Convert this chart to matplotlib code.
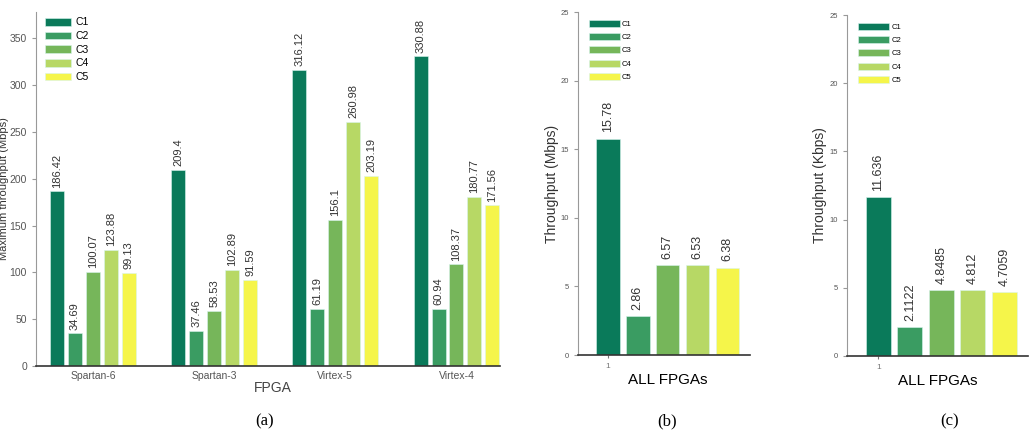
import matplotlib
matplotlib.use('Agg')
import matplotlib.pyplot as plt
import numpy as np

plt.rcParams['font.family'] = ['Liberation Sans', 'DejaVu Sans']

# data
series = ['C1', 'C2', 'C3', 'C4', 'C5']
fpgas = ['Spartan-6', 'Spartan-3', 'Virtex-5', 'Virtex-4']
max_tp = {
    'C1': [186.42, 209.4, 316.12, 330.88],
    'C2': [34.69, 37.46, 61.19, 60.94],
    'C3': [100.07, 58.53, 156.1, 108.37],
    'C4': [123.88, 102.89, 260.98, 180.77],
    'C5': [99.13, 91.59, 203.19, 171.56],
}
all_mbps = [15.78, 2.86, 6.57, 6.53, 6.38]
all_mbps_lbl = ['15.78', '2.86', '6.57', '6.53', '6.38']
all_kbps = [11.636, 2.1122, 4.8485, 4.812, 4.7059]
all_kbps_lbl = ['11.636', '2.1122', '4.8485', '4.812', '4.7059']

colors = ['#0a7a5a', '#3a9c62', '#76b65a', '#b7d865', '#f5f54a']
tick_col = '#555555'

fig = plt.figure(figsize=(10.29, 4.34), dpi=100)


def style_axes(ax):
    ax.spines['top'].set_visible(False)
    ax.spines['right'].set_visible(False)
    ax.spines['left'].set_color('#999999')
    ax.spines['bottom'].set_color('#333333')
    ax.spines['bottom'].set_linewidth(1.2)
    ax.tick_params(axis='y', direction='out', length=3, colors='#999999',
                   labelcolor=tick_col)
    ax.tick_params(axis='x', length=0, colors='#333333', labelcolor=tick_col)


# (a) maximum throughput per FPGA
ax1 = fig.add_axes([0.035, 0.157, 0.451, 0.815])
x = np.arange(len(fpgas))
slot = 0.148
for i, s in enumerate(series):
    pos = x + (i - 2) * slot
    ax1.bar(pos, max_tp[s], width=slot * 0.78, color=colors[i],
            edgecolor='#d8f4ee', linewidth=0.4, label=s)
    for p, v in zip(pos, max_tp[s]):
        ax1.text(p, v + 4, f'{v:g}', rotation=90, ha='center', va='bottom',
                 fontsize=8, color='#333333')
ax1.set_xlim(-0.47, 3.36)
ax1.set_ylim(0, 378)
ax1.set_yticks(range(0, 351, 50))
ax1.set_xticks(x)
ax1.set_xticklabels(fpgas, fontsize=7.5)
ax1.tick_params(axis='y', labelsize=7.5)
style_axes(ax1)
ax1.set_xlabel('FPGA', fontsize=10, color='#444444')
ax1.xaxis.set_label_coords(0.51, -0.042)
ax1.set_ylabel('Maximum throughput (Mbps)', fontsize=8, color='#333333')
ax1.yaxis.set_label_coords(-0.058, 0.5)
ax1.legend(loc='upper left', bbox_to_anchor=(0.019, 0.985), frameon=False,
           fontsize=7.5, handlelength=2.5, handleheight=0.75,
           labelspacing=0.35, handletextpad=0.4, borderpad=0, borderaxespad=0)

# (b) and (c): all FPGAs
for rect, vals, lbls, ylab, lx in [
        ([0.5617, 0.182, 0.167, 0.790], all_mbps, all_mbps_lbl,
         'Throughput (Mbps)', 0.523),
        ([0.823, 0.180, 0.176, 0.785], all_kbps, all_kbps_lbl,
         'Throughput (Kbps)', 0.503)]:
    ax = fig.add_axes(rect)
    pos = np.arange(len(series))
    for i, s in enumerate(series):
        ax.bar(pos[i], vals[i], width=0.79, color=colors[i],
               edgecolor='#d8f4ee', linewidth=0.4, label=s)
        ax.text(pos[i], vals[i] + 0.45, lbls[i], rotation=90, ha='center',
                va='bottom', fontsize=9, color='#333333')
    ax.set_xlim(-1.0, 4.75)
    ax.set_ylim(0, 25)
    ax.set_yticks(range(0, 26, 5))
    ax.set_xticks([0])
    ax.set_xticklabels(['1'], fontsize=6)
    style_axes(ax)
    ax.tick_params(axis='x', length=2, colors='#777777')
    ax.tick_params(axis='y', labelsize=5.5)
    ax.set_xlabel('ALL FPGAs', fontsize=11)
    ax.xaxis.set_label_coords(lx, -0.052)
    ax.set_ylabel(ylab, fontsize=10, color='#333333')
    ax.yaxis.set_label_coords(-0.11, 0.5)
    ax.legend(loc='upper left', bbox_to_anchor=(0.064, 0.978), frameon=False,
              fontsize=5.5, handlelength=4.0, handleheight=1.0,
              labelspacing=0.7, handletextpad=0.3, borderpad=0,
              borderaxespad=0)

for cx, cap in [(0.2575, '(a)'), (0.648, '(b)'), (0.923, '(c)')]:
    fig.text(cx, 0.03, cap, ha='center', va='center', fontsize=12,
             family='Liberation Serif')

fig.savefig('out.png', dpi=100)
